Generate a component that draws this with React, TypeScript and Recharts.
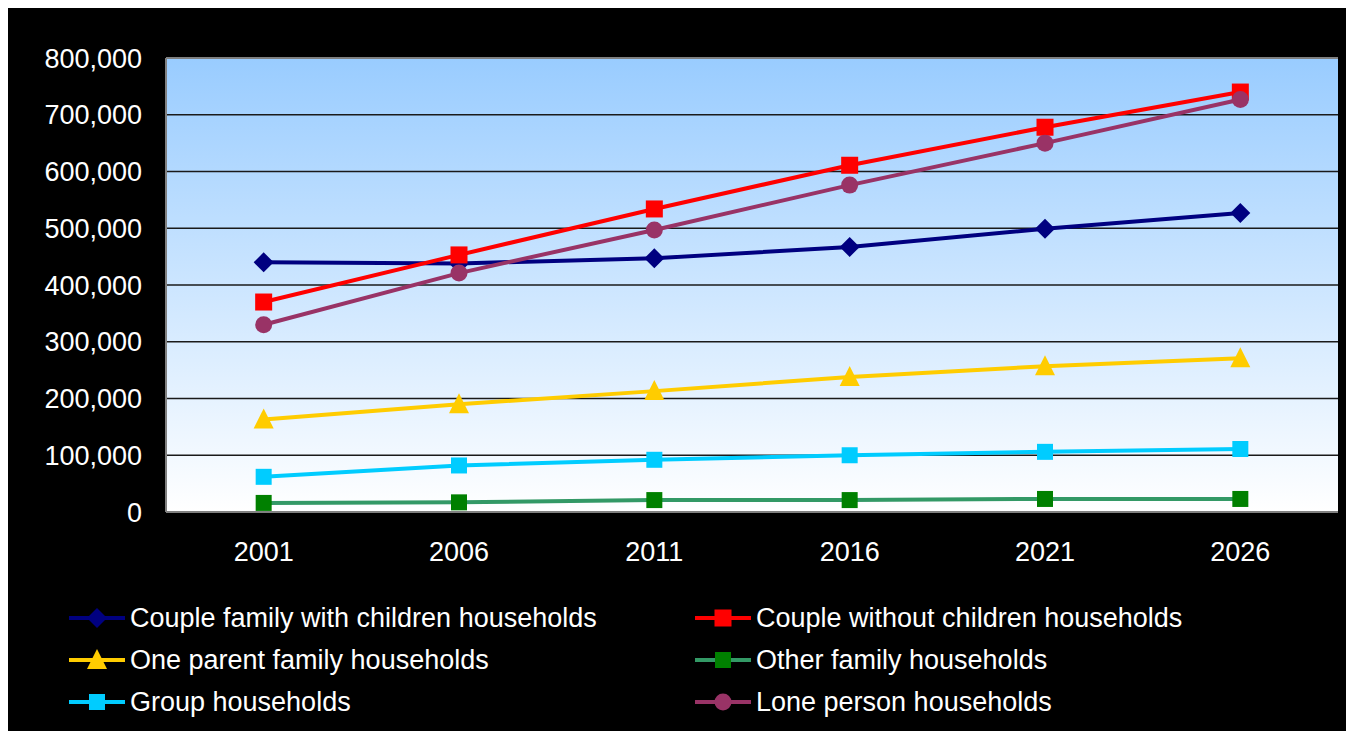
import { LineChart, Line, XAxis, YAxis, CartesianGrid, ReferenceLine } from 'recharts';

const YEARS = ['2001', '2006', '2011', '2016', '2021', '2026'];
const COUPLE_WITH_CHILDREN = [440000, 438000, 447000, 467000, 499000, 527000];
const COUPLE_WITHOUT_CHILDREN = [370000, 453000, 534000, 611000, 678000, 740000];
const ONE_PARENT = [163000, 190000, 213000, 238000, 257000, 271000];
const OTHER_FAMILY = [16000, 17000, 21000, 21000, 23000, 23000];
const GROUP = [62000, 82000, 92000, 100000, 106000, 111000];
const LONE_PERSON = [330000, 421000, 497000, 576000, 650000, 727000];
const Y_TICKS = [0, 100000, 200000, 300000, 400000, 500000, 600000, 700000, 800000];

const FONT = '"Liberation Sans", Arial, sans-serif';

// draw order = legend order (row by row, two columns)
const SERIES = [
    { key: 'withChildren', name: 'Couple family with children households', values: COUPLE_WITH_CHILDREN, line: '#000080', marker: '#000080', shape: 'diamond' },
    { key: 'withoutChildren', name: 'Couple without children households', values: COUPLE_WITHOUT_CHILDREN, line: '#FF0000', marker: '#FF0000', shape: 'bigSquare' },
    { key: 'oneParent', name: 'One parent family households', values: ONE_PARENT, line: '#FFCC00', marker: '#FFCC00', shape: 'triangle' },
    { key: 'otherFamily', name: 'Other family households', values: OTHER_FAMILY, line: '#339966', marker: '#008000', shape: 'square' },
    { key: 'group', name: 'Group households', values: GROUP, line: '#00CCFF', marker: '#00CCFF', shape: 'square' },
    { key: 'lone', name: 'Lone person households', values: LONE_PERSON, line: '#993366', marker: '#993366', shape: 'circle' },
];

const data = YEARS.map((year, i) => {
    const row: any = { year };
    SERIES.forEach(s => { row[s.key] = s.values[i]; });
    return row;
});

function Marker({ cx = 0, cy = 0, shape, color }: any) {
    if (shape === 'diamond') {
        return <polygon points={`${cx},${cy - 10} ${cx + 10},${cy} ${cx},${cy + 10} ${cx - 10},${cy}`} fill={color} />;
    }
    if (shape === 'triangle') {
        return <polygon points={`${cx},${cy - 11} ${cx + 10},${cy + 9} ${cx - 10},${cy + 9}`} fill={color} />;
    }
    if (shape === 'circle') {
        return <circle cx={cx} cy={cy} r={8.5} fill={color} />;
    }
    const s = shape === 'bigSquare' ? 17 : 16;
    return <rect x={cx - s / 2} y={cy - s / 2} width={s} height={s} fill={color} />;
}

const fmt = (v: number) => v.toLocaleString('en-US');

// plot is 1172px wide with 6 categories -> half a category on each side
const HALF_CAT = 1172 / 12;

export default function App() {
    return (
        <div style={{ position: 'relative', width: 1346, height: 725, marginTop: -2, background: '#000', fontFamily: FONT }}>
            <LineChart
                width={1346}
                height={725}
                data={data}
                margin={{ top: 52, right: 16, left: 0, bottom: 179 }}
            >
                <defs>
                    <linearGradient id="plotBg" x1="0" y1="0" x2="0" y2="1">
                        <stop offset="0%" stopColor="#99CCFF" />
                        <stop offset="100%" stopColor="#FFFFFF" />
                    </linearGradient>
                </defs>
                <CartesianGrid vertical={false} stroke="#1a1a1a" strokeWidth={1.5} fill="url(#plotBg)" fillOpacity={1} />
                <XAxis
                    dataKey="year"
                    height={40}
                    padding={{ left: HALF_CAT, right: HALF_CAT }}
                    tickLine={false}
                    tickSize={6}
                    tickMargin={24}
                    axisLine={{ stroke: '#808080', strokeWidth: 2 }}
                    tick={{ fill: '#fff', fontSize: 27, fontFamily: FONT }}
                />
                <YAxis
                    width={158}
                    domain={[0, 800000]}
                    ticks={Y_TICKS}
                    interval={0}
                    tickFormatter={fmt}
                    tickLine={false}
                    tickSize={6}
                    tickMargin={18}
                    axisLine={{ stroke: '#808080', strokeWidth: 2 }}
                    tick={{ fill: '#fff', fontSize: 27, fontFamily: FONT }}
                />
                <YAxis
                    yAxisId="border"
                    orientation="right"
                    width={0}
                    domain={[0, 1]}
                    tick={false}
                    tickLine={false}
                    axisLine={{ stroke: '#808080', strokeWidth: 2 }}
                />
                <ReferenceLine y={800000} stroke="#808080" strokeWidth={2} />
                {SERIES.map(s => (
                    <Line
                        key={s.key}
                        dataKey={s.key}
                        name={s.name}
                        stroke={s.line}
                        strokeWidth={4}
                        isAnimationActive={false}
                        dot={(p: any) => <Marker key={`${s.key}-${p.index}`} cx={p.cx} cy={p.cy} shape={s.shape} color={s.marker} />}
                        activeDot={false}
                    />
                ))}
            </LineChart>

            {/* legend: two columns, three rows */}
            {SERIES.map((s, i) => {
                const col = i % 2;
                const row = Math.floor(i / 2);
                const left = col === 0 ? 61 : 687;
                const top = 612 + row * 42 - 21;
                return (
                    <div key={s.key} style={{ position: 'absolute', left, top, height: 42, display: 'flex', alignItems: 'center' }}>
                        <svg width={56} height={30} style={{ display: 'block' }}>
                            <line x1={0} y1={15} x2={56} y2={15} stroke={s.line} strokeWidth={4} />
                            <Marker cx={28} cy={15} shape={s.shape} color={s.marker} />
                        </svg>
                        <span style={{ marginLeft: 5, color: '#fff', fontSize: 27, whiteSpace: 'nowrap', lineHeight: '42px' }}>{s.name}</span>
                    </div>
                );
            })}
        </div>
    );
}
